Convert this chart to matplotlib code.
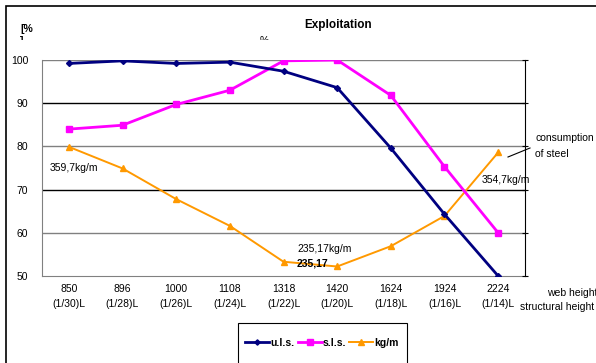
import matplotlib
matplotlib.use('Agg')
import matplotlib.pyplot as plt
from matplotlib.patches import Rectangle
from matplotlib.lines import Line2D

plt.rcParams['font.family'] = ['Liberation Sans', 'DejaVu Sans']

# data
web_height = ['850', '896', '1000', '1108', '1318', '1420', '1624', '1924', '2224']
struct_height = ['(1/30)L', '(1/28)L', '(1/26)L', '(1/24)L', '(1/22)L',
                 '(1/20)L', '(1/18)L', '(1/16)L', '(1/14)L']
uls = [99.2, 99.8, 99.2, 99.5, 97.4, 93.6, 79.6, 64.3, 50.0]
sls = [84.0, 84.9, 89.7, 93.0, 99.8, 100.0, 91.8, 75.3, 60.0]
kgm = [79.9, 74.9, 67.8, 61.6, 53.3, 52.2, 56.9, 63.9, 78.6]

W, H = 596, 363
fig = plt.figure(figsize=(W / 100, H / 100), dpi=100)

def fx(px):
    return px / W

def fy(py):
    return 1 - py / H

ax = fig.add_axes([fx(42), fy(276), fx(525) - fx(42), fy(60) - fy(276)])
x = list(range(len(web_height)))

ax.plot(x, uls, color='#000080', lw=2, marker='D', ms=3, label='u.l.s.', zorder=5)
ax.plot(x, sls, color='#FF00FF', lw=2, marker='s', ms=5, label='s.l.s.', zorder=4)
ax.plot(x, kgm, color='#FF9900', lw=1.4, marker='^', ms=5, label='kg/m', zorder=3)

ax.set_xlim(-0.5, len(x) - 0.5)
ax.set_ylim(50, 100)
ax.set_yticks([50, 60, 70, 80, 90, 100])
ax.set_xticks(x)
ax.set_xticklabels([f'{a}\n{b}' for a, b in zip(web_height, struct_height)],
                   fontsize=7.5, linespacing=1.6)
ax.tick_params(axis='both', length=0, labelsize=7.5, pad=6)
ax.tick_params(axis='y', pad=10)

for v in [60, 70, 80, 90, 100]:
    c = '#000000' if v in (70, 90) else '#808080'
    ax.axhline(v, color=c, lw=1, zorder=1)

for s in ['top', 'right']:
    ax.spines[s].set_visible(False)
ax.spines['left'].set_color('#808080')
ax.spines['bottom'].set_color('#808080')

ax2 = ax.twinx()
ax2.set_ylim(50, 100)
ax2.set_yticks([50, 60, 70, 80, 90, 100])
ax2.tick_params(axis='y', direction='inout', length=5, labelright=False, color='black')
for s in ['top', 'left', 'bottom']:
    ax2.spines[s].set_visible(False)
ax2.spines['right'].set_color('black')

# annotations
fig.text(fx(50), fy(168), '359,7kg/m', fontsize=7.5, va='center')
fig.text(fx(482), fy(180), '354,7kg/m', fontsize=7.5, va='center')
fig.text(fx(297), fy(249), '235,17kg/m', fontsize=7.5, va='center')
fig.text(fx(297), fy(263), '235,17', fontsize=7.5, va='center', fontweight='bold')
fig.text(fx(535), fy(138), 'consumption', fontsize=7.5, va='center')
fig.text(fx(535), fy(154), 'of steel', fontsize=7.5, va='center')
fig.add_artist(Line2D([fx(508), fx(530)], [fy(157), fy(148)], color='black', lw=0.8))
fig.text(fx(547), fy(293), 'web height', fontsize=7.5, va='center')
fig.text(fx(520), fy(307), 'structural height', fontsize=7.5, va='center')

# title and unit, cut off at the plot area's top
clip = Rectangle((0, fy(40)), 1, 1, transform=fig.transFigure)
fig.text(fx(338), fy(25), 'Exploitation', fontsize=8.5, fontweight='bold',
         ha='center', va='center')
t = fig.text(fx(260), fy(40.5), '%', fontsize=7.5, va='center')
t.set_clip_path(clip)
fig.text(fx(20), fy(29), '[%', fontsize=7.5, fontweight='bold', va='center')
t = fig.text(fx(20), fy(41), ']', fontsize=7.5, fontweight='bold', va='center')
t.set_clip_path(clip)

# legend, its box runs off the bottom of the picture
leg = fig.legend(loc='center', bbox_to_anchor=(fx(322), fy(343)), ncol=3,
                 prop={'size': 7.5, 'weight': 'bold'}, frameon=False,
                 handlelength=2.3, columnspacing=0.3, handletextpad=0.1,
                 markerscale=0.9)
fig.add_artist(Rectangle((fx(238), fy(380)), fx(407) - fx(238), fy(323) - fy(380),
                         transform=fig.transFigure, fill=False, edgecolor='black', lw=0.8))

# outer chart frame
fig.add_artist(Rectangle((fx(6), fy(380)), 1.2, fy(6) - fy(380), transform=fig.transFigure,
                         fill=False, edgecolor='black', lw=1.2))

fig.savefig('out.png', dpi=100)
